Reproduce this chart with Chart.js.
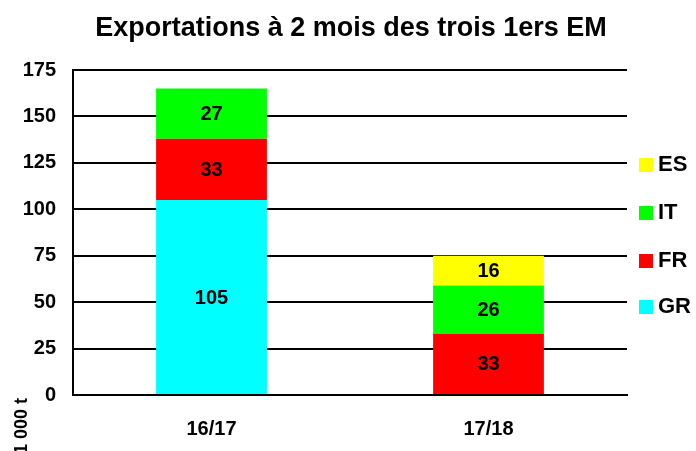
<!DOCTYPE html>
<html>
<head>
<meta charset="utf-8">
<script src="https://cdn.jsdelivr.net/npm/chart.js@4/dist/chart.umd.min.js"></script>
<style>
    html, body { margin: 0; padding: 0; background: #fff; }
    #wrap { width: 696px; height: 451px; }
</style>
</head>
<body>
<div id="wrap"><canvas id="exportChart" width="696" height="451"></canvas></div>
<script>
// Data
const campaigns = ['16/17', '17/18'];
const countries = ['GR', 'FR', 'IT', 'ES'];
const grValues = [105, 0];
const frValues = [33, 33];
const itValues = [27, 26];
const esValues = [0, 16];
const yTicks = [0, 25, 50, 75, 100, 125, 150, 175];

const colors = ['#00FFFF', '#FF0000', '#00FF00', '#FFFF00'];
const FONT = '"Liberation Sans", Arial, sans-serif';

// Value labels inside each segment
const segmentLabels = {
    id: 'segmentLabels',
    afterDatasetsDraw(chart) {
        const ctx = chart.ctx;
        ctx.save();
        ctx.font = 'bold 20px ' + FONT;
        ctx.fillStyle = '#000';
        ctx.textAlign = 'center';
        ctx.textBaseline = 'middle';
        chart.data.datasets.forEach((ds, i) => {
            chart.getDatasetMeta(i).data.forEach((bar, j) => {
                const v = ds.data[j];
                if (!v) return;
                const mid = (bar.y + bar.base) / 2;
                ctx.fillText(String(v), bar.x, mid + 1);
            });
        });
        ctx.restore();
    }
};

// Legend on the right, reversed order, plus title and unit label
const extras = {
    id: 'extras',
    afterDraw(chart) {
        const ctx = chart.ctx;
        ctx.save();

        ctx.fillStyle = '#000';
        ctx.font = 'bold 27px ' + FONT;
        ctx.textAlign = 'center';
        ctx.textBaseline = 'middle';
        ctx.fillText('Exportations à 2 mois des trois 1ers EM', 351, 29);

        const rowsY = [164, 212, 260, 306];
        const order = chart.data.datasets.slice().reverse();
        ctx.font = 'bold 22px ' + FONT;
        ctx.textAlign = 'left';
        order.forEach((ds, k) => {
            const y = rowsY[k];
            ctx.fillStyle = ds.backgroundColor;
            ctx.fillRect(639, y - 6, 14, 14);
            ctx.fillStyle = '#000';
            ctx.fillText(ds.label, 658, y + 1);
        });

        ctx.translate(22, 454);
        ctx.rotate(-Math.PI / 2);
        ctx.font = 'bold 18px ' + FONT;
        ctx.textAlign = 'left';
        ctx.textBaseline = 'middle';
        ctx.fillText('1 000 t', 0, 0);
        ctx.restore();
    }
};

const seriesValues = [grValues, frValues, itValues, esValues];

new Chart(document.getElementById('exportChart'), {
    type: 'bar',
    data: {
        labels: campaigns,
        datasets: countries.map((c, i) => ({
            label: c,
            data: seriesValues[i],
            backgroundColor: colors[i],
            borderWidth: 0,
            barPercentage: 0.4,
            categoryPercentage: 1.0
        }))
    },
    options: {
        responsive: false,
        animation: false,
        layout: {
            padding: { top: 70, right: 69, left: 0, bottom: 0 }
        },
        plugins: {
            legend: { display: false },
            title: { display: false },
            tooltip: { enabled: false }
        },
        scales: {
            x: {
                stacked: true,
                grid: { display: false, drawTicks: false },
                border: { color: '#000', width: 2 },
                ticks: {
                    color: '#000',
                    padding: 22,
                    font: { family: FONT, size: 20, weight: 'bold' }
                },
                afterFit(scale) { scale.height = 56; }
            },
            y: {
                stacked: true,
                min: 0,
                max: 175,
                afterBuildTicks(scale) {
                    scale.ticks = yTicks.map(v => ({ value: v }));
                },
                grid: { color: '#000', lineWidth: 2, drawTicks: false },
                border: { color: '#000', width: 2 },
                ticks: {
                    color: '#000',
                    padding: 17,
                    font: { family: FONT, size: 20, weight: 'bold' }
                },
                afterFit(scale) { scale.width = 73; }
            }
        }
    },
    plugins: [segmentLabels, extras]
});
</script>
</body>
</html>
